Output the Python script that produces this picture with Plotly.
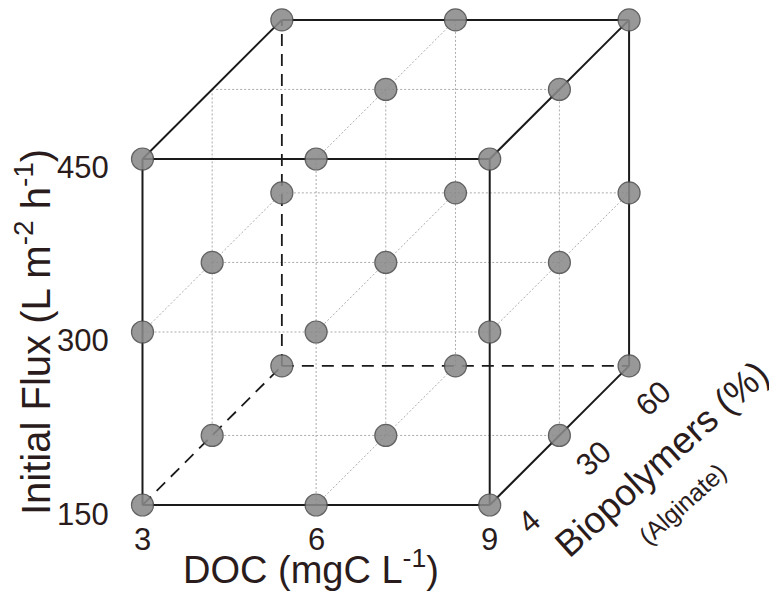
import math
import plotly.graph_objects as go

# ---- data ----
DOC_LEVELS = [3, 6, 9]          # mgC/L
BIO_LEVELS = [4, 30, 60]        # % biopolymers (alginate)
FLUX_LEVELS = [150, 300, 450]   # L m-2 h-1

DOC_TICKS = ["3", "6", "9"]
BIO_TICKS = ["4", "30", "60"]
FLUX_TICKS = ["150", "300", "450"]

# experimental design points (26)
doc_pts = [3, 6, 9, 3, 6, 9, 3, 6, 9,
           3, 6, 9, 3, 6, 9, 6, 9,
           3, 6, 9, 3, 6, 9, 3, 6, 9]
bio_pts = [4, 4, 4, 4, 4, 4, 4, 4, 4,
           30, 30, 30, 30, 30, 30, 30, 30,
           60, 60, 60, 60, 60, 60, 60, 60, 60]
flux_pts = [150, 150, 150, 300, 300, 300, 450, 450, 450,
            150, 150, 150, 300, 300, 300, 450, 450,
            150, 150, 150, 300, 300, 300, 450, 450, 450]

# ---- oblique projection (depth axis drawn up-right) ----
DEPTH_DX = 1.204   # DOC units per biopolymer level
DEPTH_DY = 60.3    # flux units per biopolymer level


def proj(d, b, f):
    j = BIO_LEVELS.index(b)
    return d + j * DEPTH_DX, f + j * DEPTH_DY


# page is 777x593; the html body has an 8px margin
PAGE_W, PAGE_H, OFF = 777, 593, 8
W, H = PAGE_W - OFF, PAGE_H - OFF
X_RANGE = [0.676, 13.964]
Y_RANGE = [73.7, 580.9]


def paper(px, py):
    return (px - OFF) / W, 1 - (py - OFF) / H


FONT = "Liberation Sans, Arial, sans-serif"
TXT = "#2a1c1c"

dmin, dmax = DOC_LEVELS[0], DOC_LEVELS[-1]
bmin, bmax = BIO_LEVELS[0], BIO_LEVELS[-1]
fmin, fmax = FLUX_LEVELS[0], FLUX_LEVELS[-1]
hidden_vertex = (dmin, bmax, fmin)

grid_x, grid_y = [], []
solid_x, solid_y = [], []
dash_x, dash_y = [], []


def add(seg, kind):
    (x0, y0), (x1, y1) = proj(*seg[0]), proj(*seg[1])
    if kind == "grid":
        grid_x.extend([x0, x1, None]); grid_y.extend([y0, y1, None])
    elif kind == "solid":
        solid_x.extend([x0, x1, None]); solid_y.extend([y0, y1, None])
    else:
        dash_x.extend([x0, x1, None]); dash_y.extend([y0, y1, None])


def classify(a, b, extremes_a, extremes_b, seg):
    if a in extremes_a and b in extremes_b:
        if hidden_vertex in seg:
            return "dash"
        return "solid"
    return "grid"


# lines along DOC
for b in BIO_LEVELS:
    for f in FLUX_LEVELS:
        seg = [(dmin, b, f), (dmax, b, f)]
        add(seg, classify(b, f, (bmin, bmax), (fmin, fmax), seg))
# lines along flux
for d in DOC_LEVELS:
    for b in BIO_LEVELS:
        seg = [(d, b, fmin), (d, b, fmax)]
        add(seg, classify(d, b, (dmin, dmax), (bmin, bmax), seg))
# lines along biopolymers
for d in DOC_LEVELS:
    for f in FLUX_LEVELS:
        seg = [(d, bmin, f), (d, bmax, f)]
        add(seg, classify(d, f, (dmin, dmax), (fmin, fmax), seg))

fig = go.Figure()
fig.add_trace(go.Scatter(x=grid_x, y=grid_y, mode="lines",
                         line=dict(color="#ababab", width=1, dash="2px,2px"),
                         hoverinfo="skip", showlegend=False))
fig.add_trace(go.Scatter(x=dash_x, y=dash_y, mode="lines",
                         line=dict(color="#1a1a1a", width=1.8, dash="12px,8px"),
                         hoverinfo="skip", showlegend=False))
fig.add_trace(go.Scatter(x=solid_x, y=solid_y, mode="lines",
                         line=dict(color="#1a1a1a", width=2),
                         hoverinfo="skip", showlegend=False))

px_, py_ = [], []
for d, b, f in zip(doc_pts, bio_pts, flux_pts):
    x, y = proj(d, b, f)
    px_.append(x); py_.append(y)
fig.add_trace(go.Scatter(x=px_, y=py_, mode="markers",
                         marker=dict(size=22, color="#8a8a8a", opacity=0.88,
                                     line=dict(color="#4d4d4d", width=1.2)),
                         showlegend=False))

ann = []
# flux ticks
for f, t in zip(FLUX_LEVELS, FLUX_TICKS):
    x, y = proj(dmin, bmin, f)
    ann.append(dict(x=x, y=y, text=t, xanchor="right", yanchor="middle",
                    xshift=-31, yshift=-9, font=dict(size=31)))
# DOC ticks
for d, t in zip(DOC_LEVELS, DOC_TICKS):
    x, y = proj(d, bmin, fmin)
    ann.append(dict(x=x, y=y, text=t, xanchor="center", yanchor="middle",
                    yshift=-34, font=dict(size=31)))
# biopolymer ticks: offset perpendicular to the depth axis, plus a small slide along it
BIO_TICK_PERP = 40
BIO_TICK_ALONG = [16, 8, -6]
s = 1 / math.sqrt(2)
for b, t, al in zip(BIO_LEVELS, BIO_TICKS, BIO_TICK_ALONG):
    x, y = proj(dmax, b, fmin)
    dx = BIO_TICK_PERP * s + al * s
    dy_down = BIO_TICK_PERP * s - al * s
    ann.append(dict(x=x, y=y, text=t, xanchor="center", yanchor="middle",
                    xshift=dx, yshift=-dy_down, textangle=-42, font=dict(size=31)))

for a in ann:
    a.update(xref="x", yref="y", showarrow=False)
    a["font"].update(family=FONT, color=TXT)

titles = [
    (33, 332, "Initial Flux (L m<sup>-2</sup> h<sup>-1</sup>)", -90, 40),
    (311, 567, "DOC (mgC L<sup>-1</sup>)", 0, 38),
    (661, 459, "Biopolymers (%)", -42, 37),
    (682, 504, "(Alginate)", -42, 25),
]
title_ann = []
for px, py, text, ang, size in titles:
    x, y = paper(px, py)
    title_ann.append(dict(x=x, y=y, xref="paper", yref="paper", text=text,
                          textangle=ang, xanchor="center", yanchor="middle",
                          showarrow=False,
                          font=dict(size=size, family=FONT, color=TXT)))

fig.update_layout(
    width=W, height=H,
    margin=dict(l=0, r=0, t=0, b=0),
    paper_bgcolor="white", plot_bgcolor="white",
    xaxis=dict(range=X_RANGE, visible=False, fixedrange=True),
    yaxis=dict(range=Y_RANGE, visible=False, fixedrange=True),
    annotations=ann + title_ann,
    showlegend=False,
)

fig.write_html("out.html")
